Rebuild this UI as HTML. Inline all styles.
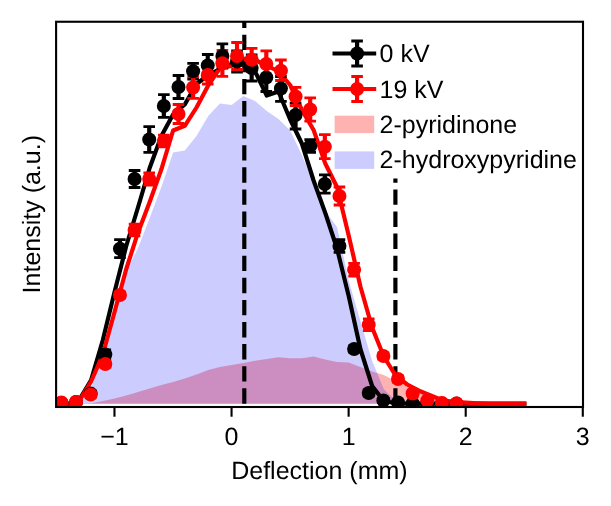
<!DOCTYPE html>
<html>
<head>
<meta charset="utf-8">
<title>Deflection profile</title>
<style>
html,body{margin:0;padding:0;background:#ffffff;}
body{width:611px;height:506px;overflow:hidden;}
svg{display:block;will-change:transform;-webkit-font-smoothing:antialiased;text-rendering:geometricPrecision;}
.t{font-family:"Liberation Sans",sans-serif;font-size:25px;fill:#000;}
</style>
</head>
<body>
<svg width="611" height="506" viewBox="0 0 611 506">
<rect width="611" height="506" fill="#ffffff"/>
<defs><clipPath id="ax"><rect x="56.1" y="21.75" width="526.9" height="385.25"/></clipPath></defs>
<g clip-path="url(#ax)">
<path d="M56,403.7 L56,403.7 L67.71,403.7 L79.42,403.7 L91.12,403.3 L102.83,401 L114.54,398.5 L126.25,395.5 L137.96,392 L149.66,388.5 L161.37,385 L173.08,382 L184.79,378.5 L196.5,374.5 L208.2,370 L219.91,367 L231.62,365 L243.33,363 L255.04,360.7 L266.74,359 L278.45,357.2 L290.16,358.3 L301.87,358.2 L313.58,356.5 L325.28,359.5 L336.99,362 L348.7,362.5 L360.41,367 L372.12,371.5 L383.82,375 L395.53,381 L407.24,386.5 L418.95,392.5 L430.66,397.5 L442.36,401 L454.07,402.8 L465.78,403.5 L477.49,403.7 L489.2,403.7 L500.9,403.7 L512.61,403.7 L524.32,403.7 L524.32,403.7 Z" fill="#ff0000" fill-opacity="0.3"/>
<path d="M56,403.7 L56,403.7 L67.71,403.7 L79.42,401 L91.12,388 L102.83,357 L114.54,318 L126.25,272 L137.96,248 L149.66,218 L161.37,187 L173.08,152.5 L184.79,150.5 L196.5,136 L208.2,116 L219.91,103.5 L231.62,105 L243.33,96 L255.04,101 L266.74,111 L278.45,119 L290.16,130.5 L301.87,155 L313.58,183 L325.28,211 L336.99,227 L348.7,280.5 L360.41,321 L372.12,361 L383.82,389 L395.53,400.5 L407.24,403.2 L418.95,403.7 L430.66,403.7 L442.36,403.7 L454.07,403.7 L465.78,403.7 L477.49,403.7 L489.2,403.7 L500.9,403.7 L512.61,403.7 L524.32,403.7 L524.32,403.7 Z" fill="#0000ff" fill-opacity="0.2"/>
<path d="M244.3,403.7 V0" stroke="#000" stroke-width="4.17" stroke-dasharray="15.4 6.7" fill="none"/>
<path d="M395.4,403.7 V178.4" stroke="#000" stroke-width="4.17" stroke-dasharray="15.4 6.7" fill="none"/>
<polyline points="56,404 67.71,404 79.42,399.5 91.12,380 102.83,340 114.54,292 126.25,246 137.96,207.5 149.66,168 161.37,136 173.08,114.5 184.79,104.5 196.5,84 208.2,75 219.91,69 231.62,64 243.33,64.5 255.04,71.5 266.74,95.5 278.45,91.5 290.16,119.5 301.87,143.5 313.58,180.5 325.28,213 336.99,248.5 348.7,296 360.41,349 372.12,386 383.82,401 395.53,403.3 407.24,403.7 418.95,403.7 430.66,403.7 442.36,403.7 454.07,403.7 465.78,403.7 477.49,403.7 489.2,403.7 500.9,403.7 512.61,403.7 524.32,403.7" fill="none" stroke="#000" stroke-width="4.17" stroke-linejoin="round" stroke-linecap="square"/>
<polyline points="56,404 67.71,404 79.42,400.5 91.12,381.5 102.83,354.5 114.54,312 126.25,269 137.96,232.7 149.66,202 161.37,169.3 173.08,130.5 184.79,125.8 196.5,107.5 208.2,85.5 219.91,68 231.62,66 243.33,59 255.04,60 266.74,65.5 278.45,71.5 290.16,85 301.87,110 313.58,130 325.28,163.5 336.99,187 348.7,235.5 360.41,286.5 372.12,327.5 383.82,356.5 395.53,375.5 407.24,384.5 418.95,390.7 430.66,395.5 442.36,400.3 454.07,401.9 465.78,402.7 477.49,403.3 489.2,403.8 500.9,403.8 512.61,403.8 524.32,403.8" fill="none" stroke="#ff0000" stroke-width="4.17" stroke-linejoin="round" stroke-linecap="square"/>
<path d="M61.4,401 V405 M76.03,400 V404 M90.67,390.6 V396.6 M105.31,349.8 V359.2 M119.94,239.7 V257.7 M134.57,170.5 V187.5 M149.21,126.7 V152.3 M163.84,94.7 V117.3 M178.48,75.5 V98.5 M193.12,63.3 V79.2 M207.75,54.5 V76.5 M222.38,43.8 V68.2 M237.02,51 V72 M251.66,55 V81 M266.29,63.5 V91.5 M280.93,76.5 V101.3 M295.56,103.2 V129 M310.19,139.6 V152.4 M324.83,174.8 V193.2 M339.46,239.6 V252.4 M354.1,346 V352 M368.73,390 V396 M383.37,398.5 V402.5 M398,400.5 V404.5 M412.64,401.5 V405.5 M427.27,401.6 V405.6 M441.91,401.6 V405.6 M456.54,401.6 V405.6" stroke="#000000" stroke-width="4.17" fill="none"/>
<path d="M55.6,401 H67.2 M55.6,405 H67.2 M70.23,400 H81.83 M70.23,404 H81.83 M84.87,390.6 H96.47 M84.87,396.6 H96.47 M99.51,349.8 H111.11 M99.51,359.2 H111.11 M114.14,239.7 H125.74 M114.14,257.7 H125.74 M128.77,170.5 H140.38 M128.77,187.5 H140.38 M143.41,126.7 H155.01 M143.41,152.3 H155.01 M158.04,94.7 H169.65 M158.04,117.3 H169.65 M172.68,75.5 H184.28 M172.68,98.5 H184.28 M187.31,63.3 H198.92 M187.31,79.2 H198.92 M201.95,54.5 H213.55 M201.95,76.5 H213.55 M216.58,43.8 H228.19 M216.58,68.2 H228.19 M231.22,51 H242.82 M231.22,72 H242.82 M245.85,55 H257.45 M245.85,81 H257.45 M260.49,63.5 H272.09 M260.49,91.5 H272.09 M275.12,76.5 H286.73 M275.12,101.3 H286.73 M289.76,103.2 H301.36 M289.76,129 H301.36 M304.39,139.6 H316 M304.39,152.4 H316 M319.03,174.8 H330.63 M319.03,193.2 H330.63 M333.66,239.6 H345.26 M333.66,252.4 H345.26 M348.3,346 H359.9 M348.3,352 H359.9 M362.93,390 H374.53 M362.93,396 H374.53 M377.57,398.5 H389.17 M377.57,402.5 H389.17 M392.2,400.5 H403.81 M392.2,404.5 H403.81 M406.84,401.5 H418.44 M406.84,405.5 H418.44 M421.47,401.6 H433.07 M421.47,405.6 H433.07 M436.11,401.6 H447.71 M436.11,405.6 H447.71 M450.74,401.6 H462.34 M450.74,405.6 H462.34" stroke="#000000" stroke-width="2.78" fill="none"/>
<path d="M61.4,400.5 V404.5 M76.03,400 V404 M90.67,391.5 V397.5 M105.31,361 V367 M119.94,292 V298 M134.57,224.1 V235.9 M149.21,172.9 V185.1 M163.84,135.2 V146.8 M178.48,104.5 V123.5 M193.12,76.8 V98.4 M207.75,66 V84 M222.38,50.3 V76.3 M237.02,42.5 V69.5 M251.66,48.3 V71.3 M266.29,50.8 V77.2 M280.93,60 V80.5 M295.56,87.3 V105.7 M310.19,97.8 V121.2 M324.83,134.7 V158.7 M339.46,187 V205 M354.1,263.4 V276.2 M368.73,318.9 V330.7 M383.37,353 V359 M398,376 V382 M412.64,390.5 V396.5 M427.27,398.5 V402.5 M441.91,401 V405 M456.54,401.5 V405.5" stroke="#ff0000" stroke-width="4.17" fill="none"/>
<path d="M55.6,400.5 H67.2 M55.6,404.5 H67.2 M70.23,400 H81.83 M70.23,404 H81.83 M84.87,391.5 H96.47 M84.87,397.5 H96.47 M99.51,361 H111.11 M99.51,367 H111.11 M114.14,292 H125.74 M114.14,298 H125.74 M128.77,224.1 H140.38 M128.77,235.9 H140.38 M143.41,172.9 H155.01 M143.41,185.1 H155.01 M158.04,135.2 H169.65 M158.04,146.8 H169.65 M172.68,104.5 H184.28 M172.68,123.5 H184.28 M187.31,76.8 H198.92 M187.31,98.4 H198.92 M201.95,66 H213.55 M201.95,84 H213.55 M216.58,50.3 H228.19 M216.58,76.3 H228.19 M231.22,42.5 H242.82 M231.22,69.5 H242.82 M245.85,48.3 H257.45 M245.85,71.3 H257.45 M260.49,50.8 H272.09 M260.49,77.2 H272.09 M275.12,60 H286.73 M275.12,80.5 H286.73 M289.76,87.3 H301.36 M289.76,105.7 H301.36 M304.39,97.8 H316 M304.39,121.2 H316 M319.03,134.7 H330.63 M319.03,158.7 H330.63 M333.66,187 H345.26 M333.66,205 H345.26 M348.3,263.4 H359.9 M348.3,276.2 H359.9 M362.93,318.9 H374.53 M362.93,330.7 H374.53 M377.57,353 H389.17 M377.57,359 H389.17 M392.2,376 H403.81 M392.2,382 H403.81 M406.84,390.5 H418.44 M406.84,396.5 H418.44 M421.47,398.5 H433.07 M421.47,402.5 H433.07 M436.11,401 H447.71 M436.11,405 H447.71 M450.74,401.5 H462.34 M450.74,405.5 H462.34" stroke="#ff0000" stroke-width="2.78" fill="none"/>
<g fill="#000000">
<circle cx="61.4" cy="403" r="7.0"/>
<circle cx="76.03" cy="402" r="7.0"/>
<circle cx="90.67" cy="393.6" r="7.0"/>
<circle cx="105.31" cy="354.5" r="7.0"/>
<circle cx="119.94" cy="248.7" r="7.0"/>
<circle cx="134.57" cy="179" r="7.0"/>
<circle cx="149.21" cy="139.5" r="7.0"/>
<circle cx="163.84" cy="106" r="7.0"/>
<circle cx="178.48" cy="87" r="7.0"/>
<circle cx="193.12" cy="71.2" r="7.0"/>
<circle cx="207.75" cy="65.5" r="7.0"/>
<circle cx="222.38" cy="56" r="7.0"/>
<circle cx="237.02" cy="61.5" r="7.0"/>
<circle cx="251.66" cy="68" r="7.0"/>
<circle cx="266.29" cy="77.5" r="7.0"/>
<circle cx="280.93" cy="88.5" r="7.0"/>
<circle cx="295.56" cy="115" r="7.0"/>
<circle cx="310.19" cy="146" r="7.0"/>
<circle cx="324.83" cy="184" r="7.0"/>
<circle cx="339.46" cy="246" r="7.0"/>
<circle cx="354.1" cy="349" r="7.0"/>
<circle cx="368.73" cy="393" r="7.0"/>
<circle cx="383.37" cy="400.5" r="7.0"/>
<circle cx="398" cy="402.5" r="7.0"/>
<circle cx="412.64" cy="403.5" r="7.0"/>
<circle cx="427.27" cy="403.6" r="7.0"/>
<circle cx="441.91" cy="403.6" r="7.0"/>
<circle cx="456.54" cy="403.6" r="7.0"/>
</g>
<g fill="#ff0000">
<circle cx="61.4" cy="402.5" r="7.0"/>
<circle cx="76.03" cy="402" r="7.0"/>
<circle cx="90.67" cy="394.5" r="7.0"/>
<circle cx="105.31" cy="364" r="7.0"/>
<circle cx="119.94" cy="295" r="7.0"/>
<circle cx="134.57" cy="230" r="7.0"/>
<circle cx="149.21" cy="179" r="7.0"/>
<circle cx="163.84" cy="141" r="7.0"/>
<circle cx="178.48" cy="114" r="7.0"/>
<circle cx="193.12" cy="87.5" r="7.0"/>
<circle cx="207.75" cy="75" r="7.0"/>
<circle cx="222.38" cy="63.3" r="7.0"/>
<circle cx="237.02" cy="56" r="7.0"/>
<circle cx="251.66" cy="59.8" r="7.0"/>
<circle cx="266.29" cy="64" r="7.0"/>
<circle cx="280.93" cy="70.7" r="7.0"/>
<circle cx="295.56" cy="96.5" r="7.0"/>
<circle cx="310.19" cy="109.5" r="7.0"/>
<circle cx="324.83" cy="146.7" r="7.0"/>
<circle cx="339.46" cy="196" r="7.0"/>
<circle cx="354.1" cy="269.8" r="7.0"/>
<circle cx="368.73" cy="324.8" r="7.0"/>
<circle cx="383.37" cy="356" r="7.0"/>
<circle cx="398" cy="379" r="7.0"/>
<circle cx="412.64" cy="393.5" r="7.0"/>
<circle cx="427.27" cy="400.5" r="7.0"/>
<circle cx="441.91" cy="403" r="7.0"/>
<circle cx="456.54" cy="403.5" r="7.0"/>
</g>
</g>
<rect x="56.1" y="21.75" width="526.9" height="385.25" fill="none" stroke="#000" stroke-width="2.1"/>
<path d="M114.47,407 V416.72" stroke="#000" stroke-width="2.1"/>
<text x="114.47" y="444.6" text-anchor="middle" class="t">−1</text>
<path d="M231.55,407 V416.72" stroke="#000" stroke-width="2.1"/>
<text x="231.55" y="444.6" text-anchor="middle" class="t">0</text>
<path d="M348.63,407 V416.72" stroke="#000" stroke-width="2.1"/>
<text x="348.63" y="444.6" text-anchor="middle" class="t">1</text>
<path d="M465.71,407 V416.72" stroke="#000" stroke-width="2.1"/>
<text x="465.71" y="444.6" text-anchor="middle" class="t">2</text>
<path d="M582.79,407 V416.72" stroke="#000" stroke-width="2.1"/>
<text x="582.79" y="444.6" text-anchor="middle" class="t">3</text>
<text x="319.4" y="478.7" text-anchor="middle" class="t">Deflection (mm)</text>
<text transform="translate(39.7,214.2) rotate(-90)" text-anchor="middle" class="t">Intensity (a.u.)</text>
<path d="M332.5,53.5 H376.2" stroke="#000000" stroke-width="4.17" fill="none"/>
<path d="M357.1,41 V66" stroke="#000000" stroke-width="4.17" fill="none"/>
<path d="M351.3,41 H362.9 M351.3,66 H362.9" stroke="#000000" stroke-width="2.78" fill="none"/>
<circle cx="357.1" cy="53.5" r="7.0" fill="#000000"/>
<path d="M332.5,89 H376.2" stroke="#ff0000" stroke-width="4.17" fill="none"/>
<path d="M357.1,76.5 V101.5" stroke="#ff0000" stroke-width="4.17" fill="none"/>
<path d="M351.3,76.5 H362.9 M351.3,101.5 H362.9" stroke="#ff0000" stroke-width="2.78" fill="none"/>
<circle cx="357.1" cy="89" r="7.0" fill="#ff0000"/>
<rect x="334.6" y="115.7" width="39.6" height="17.4" fill="#ff0000" fill-opacity="0.3"/>
<rect x="334.6" y="151.4" width="39.6" height="17.5" fill="#0000ff" fill-opacity="0.2"/>
<text x="379.6" y="62.4" class="t">0 kV</text>
<text x="379.6" y="97.6" class="t">19 kV</text>
<text x="379.6" y="132.6" class="t">2-pyridinone</text>
<text x="379.6" y="168.2" class="t">2-hydroxypyridine</text>
</svg>
</body>
</html>
